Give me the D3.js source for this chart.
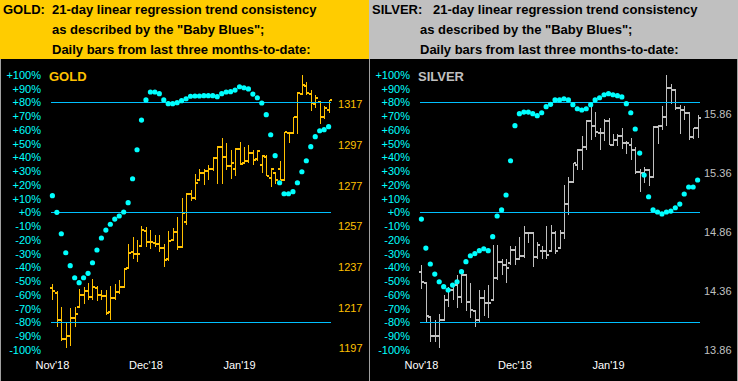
<!DOCTYPE html>
<html><head><meta charset="utf-8">
<script src="https://cdn.jsdelivr.net/npm/d3@7"></script>
<style>html,body{margin:0;padding:0;background:#000;}svg{display:block;}</style>
</head><body>
<svg id="c" width="738" height="381"></svg>
<script>
// ---------- DATA ----------
const monthLabels = ["Nov'18", "Dec'18", "Jan'19"];
const monthStartIdx = [0, 21, 42];
const pctTicks = [100, 90, 80, 70, 60, 50, 40, 30, 20, 10, 0, -10, -20, -30, -40, -50, -60, -70, -80, -90, -100];
const refLines = [80, 0, -80];

const goldPriceTicks = [1197, 1217, 1237, 1257, 1277, 1297, 1317];
const goldOpen  = [1226.5,1224,1211,1201.5,1203,1212,1217.5,1223,1225,1222,1226.5,1223,1222.5,1215,1221.5,1224.5,1227,1236.5,1244.5,1243.5,1247.5,1254.5,1249.5,1249,1248.5,1246.5,1241,1250.5,1254,1247,1259,1273,1271,1280,1283,1284,1285,1290.5,1296,1291,1286.5,1285,1295,1288,1289,1293,1290,1287,1291,1281,1283,1285,1280,1303,1303,1311,1322,1326,1322,1317,1318,1311,1314];
const goldHigh  = [1228.5,1225,1217.5,1209.5,1217,1217.5,1226,1227,1229,1231,1227.5,1225.5,1225.5,1227.5,1228.5,1230.5,1236.5,1248.5,1251.5,1250.5,1257,1256.5,1255,1252.5,1252.5,1248.5,1254.5,1256,1261.5,1271,1273.5,1275,1282.5,1285,1285,1287,1291,1296.5,1300.5,1298,1294.5,1295.5,1298.5,1296,1297,1294.5,1294.5,1292,1292,1285.5,1283,1289,1303.5,1303.5,1311,1323,1331.5,1328,1324,1321.5,1318.5,1316,1319];
const goldLow   = [1221,1207.5,1200.5,1197,1198,1207.5,1217.5,1219,1221,1221,1220.5,1221,1213.5,1211,1221,1223.5,1227,1236,1241,1239.5,1247,1247,1246,1247,1244.5,1237,1240,1250,1245.5,1246.5,1257.5,1269.5,1270,1280,1277.5,1280,1284,1278,1278,1284.5,1280.5,1281.5,1287,1288,1288,1287,1289,1283,1281.5,1276.5,1278,1280,1280,1298,1302.5,1302.5,1321.5,1321.5,1313.5,1315,1307.5,1310,1312.5];
const goldClose = [1225,1211,1201.5,1203,1212,1214,1223,1225,1222,1227,1223,1222.5,1214.5,1221.5,1224.5,1227,1236,1244,1243.5,1243.5,1255,1249.5,1249.5,1248.5,1246.5,1240.5,1250,1254,1247,1263.5,1273,1271,1278.5,1283,1284,1285,1290.5,1296,1291,1286.5,1288,1295,1287.5,1289,1293,1289.5,1294,1291.5,1281.5,1285,1280,1280,1303.5,1303,1311,1322.5,1326.5,1322.5,1317.5,1320,1311,1315,1319];
const goldBlues = [12.1,0,-15.6,-29.4,-38.8,-47.6,-51.2,-47.6,-44.4,-36.7,-27.4,-18.7,-12.9,-8.7,-4.9,-2.7,0.2,7.0,24.4,45.5,67.1,81.7,87.5,87.5,86.3,81.7,79.0,79.0,79.7,81.2,82.6,84.4,84.6,84.6,84.8,84.8,84.8,84.1,86.3,87.5,87.7,88.9,91.3,90.6,89.7,86.0,83.3,79.5,71.0,56.4,41.2,21.5,13.5,13.5,15.0,21.5,29.5,37.5,47.7,55.0,59.3,60.1,62.3];

const silverPriceTicks = [13.86, 14.36, 14.86, 15.36, 15.86];
const silverOpen  = [14.52,14.43,14.14,13.98,13.98,14.12,14.29,14.37,14.41,14.31,14.50,14.27,14.19,14.12,14.30,14.26,14.29,14.47,14.61,14.58,14.60,14.71,14.63,14.66,14.85,14.85,14.65,14.70,14.70,14.70,14.85,14.73,14.85,15.10,15.29,15.43,15.56,15.58,15.80,15.76,15.70,15.70,15.80,15.60,15.64,15.68,15.62,15.60,15.56,15.37,15.36,15.39,15.33,15.75,15.76,15.84,16.08,16.07,15.91,15.90,15.87,15.67,15.74];
const silverHigh  = [14.58,14.43,14.15,14.12,14.17,14.33,14.40,14.43,14.50,14.54,14.51,14.43,14.20,14.37,14.37,14.41,14.75,14.75,14.63,14.63,14.74,14.74,14.82,14.91,14.85,14.85,14.78,14.74,14.91,14.92,14.87,14.88,15.26,15.33,15.45,15.57,15.68,15.81,15.94,15.88,15.74,15.82,15.83,15.69,15.69,15.74,15.63,15.66,15.58,15.40,15.41,15.40,15.76,15.77,15.93,16.19,16.12,16.07,15.94,15.93,15.87,15.74,15.85];
const silverLow   = [14.38,14.10,13.93,13.93,13.88,14.12,14.23,14.29,14.22,14.26,14.19,14.13,14.06,14.09,14.15,14.13,14.29,14.46,14.50,14.43,14.58,14.58,14.63,14.64,14.77,14.57,14.63,14.63,14.63,14.70,14.68,14.73,14.80,15.01,15.29,15.39,15.39,15.56,15.64,15.67,15.56,15.63,15.60,15.59,15.59,15.57,15.52,15.47,15.35,15.20,15.28,15.25,15.32,15.61,15.73,15.76,15.95,15.90,15.69,15.81,15.64,15.65,15.66];
const silverClose = [14.44,14.15,13.98,13.98,14.12,14.29,14.37,14.41,14.31,14.50,14.27,14.20,14.12,14.30,14.26,14.26,14.47,14.61,14.58,14.56,14.71,14.63,14.66,14.85,14.85,14.65,14.75,14.70,14.67,14.85,14.70,14.85,15.10,15.29,15.45,15.56,15.58,15.80,15.76,15.71,15.70,15.80,15.60,15.64,15.68,15.62,15.62,15.56,15.37,15.36,15.39,15.33,15.75,15.76,15.84,16.08,16.07,15.91,15.90,15.87,15.67,15.74,15.83];
const silverBlues = [-4.9,-26.0,-37.6,-44.9,-50.5,-54.1,-56.5,-52.9,-50.5,-43.2,-35.9,-31.6,-30.1,-27.9,-26.5,-27.9,-17.7,-2.7,1.7,12.6,37.5,63.0,71.7,72.9,72.9,71.7,70.3,72.4,76.8,78.5,81.7,81.7,82.6,81.7,78.3,75.3,74.4,75.3,78.3,81.7,83.3,85.5,86.3,85.5,84.8,83.9,79.0,72.4,60.6,43.1,27.1,11.3,1.7,0.2,-1.2,0.2,0.9,3.3,6.0,13.3,18.4,18.4,23.5];

// ---------- DRAW ----------
const svg = d3.select("#c");
const FONT = "Arial, 'Liberation Sans', sans-serif";
const PANEL_W = 369;

function panel(cfg) {
  const off = cfg.offset;
  const g = svg.append("g").attr("transform", `translate(${off},0)`);
  const n = cfg.close.length;

  g.append("rect").attr("x", 0).attr("y", 0).attr("width", PANEL_W).attr("height", 59).attr("fill", cfg.headerFill);
  g.append("rect").attr("x", 0).attr("y", 59).attr("width", PANEL_W).attr("height", 322).attr("fill", "#000");
  g.append("line").attr("x1", 0.5).attr("x2", 0.5).attr("y1", 59).attr("y2", 381).attr("stroke", "#a0a0a0").attr("stroke-width", 1);

  // header text
  const ht = g.append("g").attr("font-family", FONT).attr("font-size", 13).attr("font-weight", "bold").attr("fill", "#000");
  ht.append("text").attr("x", 3).attr("y", 13.5).text(cfg.name + ":");
  ht.append("text").attr("x", cfg.line1X).attr("y", 13.5).text("21-day linear regression trend consistency");
  ht.append("text").attr("x", cfg.indentX).attr("y", 33.5).text("as described by the \"Baby Blues\";");
  ht.append("text").attr("x", cfg.indentX).attr("y", 53.5).text("Daily bars from last three months-to-date:");

  const x = d3.scaleLinear().domain([0, n - 1]).range([52.4, 328.6]);
  const yPct = d3.scaleLinear().domain([-100, 100]).range([349.8, 74.8]);
  const yPx = d3.scaleLinear().domain(cfg.priceDomain).range(cfg.priceRange);

  // percent axis labels
  g.append("g").selectAll("text").data(pctTicks).join("text")
    .attr("x", 41).attr("y", d => yPct(d) + 4)
    .attr("text-anchor", "end").attr("font-family", FONT).attr("font-size", 11)
    .attr("fill", "#00ffff")
    .text(d => (d >= 0 ? "+" : "") + d + "%");

  // price axis labels
  g.append("g").selectAll("text").data(cfg.priceTicks).join("text")
    .attr("x", 362.5).attr("y", d => yPx(d) + 4)
    .attr("text-anchor", "end").attr("font-family", FONT).attr("font-size", 11)
    .attr("fill", cfg.barColor)
    .text(d => cfg.fmt(d));

  // month labels
  g.append("g").selectAll("text").data(monthLabels).join("text")
    .attr("x", (d, i) => x(monthStartIdx[i])).attr("y", 369)
    .attr("text-anchor", "middle").attr("font-family", FONT).attr("font-size", 11)
    .attr("fill", "#fff").text(d => d);

  // title
  g.append("text").attr("x", 49).attr("y", 80.5).attr("font-family", FONT).attr("font-size", 13)
    .attr("font-weight", "bold").attr("fill", cfg.barColor).text(cfg.name);

  // OHLC bars
  const idx = d3.range(n);
  const bars = g.append("g").attr("stroke", cfg.barColor).attr("shape-rendering", "crispEdges");
  bars.selectAll("line.hl").data(idx).join("line").attr("class", "hl")
    .attr("x1", i => Math.round(x(i)) + 0.5).attr("x2", i => Math.round(x(i)) + 0.5)
    .attr("y1", i => yPx(cfg.high[i])).attr("y2", i => yPx(cfg.low[i])).attr("stroke-width", 1);
  bars.selectAll("line.op").data(idx).join("line").attr("class", "op")
    .attr("x1", i => Math.round(x(i)) - 2).attr("x2", i => Math.round(x(i)) + 0.5)
    .attr("y1", i => yPx(cfg.open[i])).attr("y2", i => yPx(cfg.open[i])).attr("stroke-width", 2);
  bars.selectAll("line.cl").data(idx).join("line").attr("class", "cl")
    .attr("x1", i => Math.round(x(i)) + 0.5).attr("x2", i => Math.round(x(i)) + 3)
    .attr("y1", i => yPx(cfg.close[i])).attr("y2", i => yPx(cfg.close[i])).attr("stroke-width", 2);

  // reference lines
  g.append("g").selectAll("line").data(refLines).join("line")
    .attr("x1", x(0) - 1.5).attr("x2", x(n - 1) + 2.5)
    .attr("y1", d => Math.round(yPct(d)) + 0.5).attr("y2", d => Math.round(yPct(d)) + 0.5)
    .attr("stroke", "#00c0ff").attr("stroke-width", 1).attr("shape-rendering", "crispEdges");

  // Baby Blues dots
  g.append("g").selectAll("circle").data(idx).join("circle")
    .attr("cx", i => x(i)).attr("cy", i => yPct(cfg.blues[i])).attr("r", 2.6)
    .attr("fill", "#00ffff");
}

panel({
  offset: 0, name: "GOLD", headerFill: "#ffcc00", barColor: "#ffc000",
  line1X: 52, indentX: 52,
  open: goldOpen, high: goldHigh, low: goldLow, close: goldClose, blues: goldBlues,
  priceTicks: goldPriceTicks, priceDomain: [1197, 1317], priceRange: [348.3, 104.3],
  fmt: d => String(d)
});
panel({
  offset: 369, name: "SILVER", headerFill: "#c0c0c0", barColor: "#c0c0c0",
  line1X: 64, indentX: 51,
  open: silverOpen, high: silverHigh, low: silverLow, close: silverClose, blues: silverBlues,
  priceTicks: silverPriceTicks, priceDomain: [13.86, 15.86], priceRange: [350.3, 114.3],
  fmt: d => d.toFixed(2)
});
svg.append("line").attr("x1", 737.5).attr("x2", 737.5).attr("y1", 59).attr("y2", 381).attr("stroke", "#a0a0a0");
</script>
</body></html>
